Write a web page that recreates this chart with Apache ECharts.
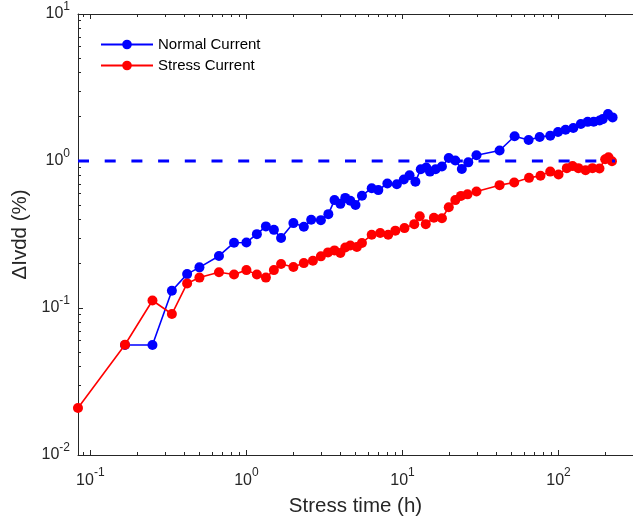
<!DOCTYPE html>
<html>
<head>
<meta charset="utf-8">
<title>ΔIvdd vs stress time</title>
<script src="https://cdn.jsdelivr.net/npm/echarts@6.0.0/dist/echarts.min.js"></script>
<style>
  html, body { margin: 0; padding: 0; background: #fff; }
  #chart1 { width: 633px; height: 522px; }
</style>
</head>
<body>
<div id="chart1"></div>
<script>
// 数据：应力时间 (h) 和 ΔIvdd (%)
var timeNormal = [0.1667, 0.25, 0.333, 0.417, 0.5, 0.667, 0.833, 1.0, 1.167, 1.333,
    1.5, 1.667, 2.0, 2.333, 2.6, 3.0, 3.35, 3.667, 4.0, 4.3,
    4.63, 5.0, 5.5, 6.35, 7.0, 8.0, 9.2, 10.2, 11.1, 12.1,
    13.1, 14.2, 15.0, 16.3, 17.9, 19.8, 21.8, 24.0, 26.4, 29.8,
    41.9, 52.3, 64.3, 75.7, 88.5, 99.2, 110.9, 124.3, 139, 153.7,
    168, 183.4, 192, 207.5, 222];
var ivddNormal = [0.056, 0.056, 0.131, 0.170, 0.189, 0.226, 0.278, 0.279, 0.318, 0.359,
    0.340, 0.299, 0.378, 0.357, 0.398, 0.396, 0.435, 0.542, 0.511, 0.561,
    0.536, 0.502, 0.581, 0.653, 0.634, 0.703, 0.695, 0.748, 0.800, 0.722,
    0.880, 0.904, 0.847, 0.880, 0.918, 1.048, 1.009, 0.883, 0.979, 1.094,
    1.179, 1.474, 1.388, 1.458, 1.488, 1.576, 1.631, 1.677, 1.784, 1.846,
    1.848, 1.884, 1.927, 2.084, 1.980];

var timeStress = [0.0833, 0.1667, 0.25, 0.333, 0.417, 0.5, 0.667, 0.833, 1.0, 1.167,
    1.333, 1.5, 1.667, 2.0, 2.333, 2.667, 3.0, 3.333, 3.667, 4.0,
    4.3, 4.63, 5.1, 5.5, 6.35, 7.2, 8.1, 9.0, 10.3, 11.9,
    12.9, 14.1, 15.9, 17.9, 19.8, 21.8, 23.7, 26.1, 29.8, 41.9,
    52.0, 64.7, 76.6, 88.5, 100, 113, 123, 134, 149, 165,
    183, 199, 209, 220];
var ivddStress = [0.0209, 0.0562, 0.1125, 0.091, 0.147, 0.161, 0.175, 0.169, 0.181, 0.169,
    0.161, 0.181, 0.199, 0.190, 0.202, 0.2095, 0.2245, 0.239, 0.2465, 0.237,
    0.258, 0.2665, 0.260, 0.277, 0.315, 0.3235, 0.315, 0.336, 0.3495, 0.372,
    0.421, 0.372, 0.411, 0.408, 0.484, 0.542, 0.579, 0.593, 0.621, 0.685,
    0.714, 0.768, 0.793, 0.847, 0.809, 0.894, 0.923, 0.894, 0.864, 0.894,
    0.888, 1.028, 1.061, 0.997];

// 1% 参考线
var refLineTime = [1 / 12, 230];
var refLineValue = [1, 1];

// 坐标轴刻度
var xMajorTicks = [0.1, 1, 10, 100];
var yMajorTicks = [0.01, 0.1, 1, 10];
var xRange = [1 / 12, 300];
var yRange = [0.01, 10];

function minorTicks(major, range) {
    var out = [];
    var decades = [major[0] / 10].concat(major);
    for (var i = 0; i < decades.length; i++) {
        for (var k = 2; k <= 9; k++) {
            var v = +(decades[i] * k).toPrecision(6);
            if (v > range[0] && v < range[1]) out.push(v);
        }
    }
    return out;
}

function pair(xs, ys) {
    var out = [];
    for (var i = 0; i < xs.length; i++) out.push([xs[i], ys[i]]);
    return out;
}

function powLabel(v) {
    var e = Math.round(Math.log(v) / Math.LN10);
    return '{b|10}{s|' + e + '}';
}

var axisColor = '#262626';
var fontName = 'Liberation Sans, Arial, sans-serif';
var labelRich = {
    b: { fontSize: 16, color: axisColor, fontFamily: fontName },
    s: { fontSize: 12, color: axisColor, fontFamily: fontName, padding: [0, 0, 15, 0] }
};

// 只画刻度的辅助轴
function tickAxis(pos, range, ticks, len, showLine) {
    return {
        type: 'log', logBase: 10, min: range[0], max: range[1], position: pos,
        axisLine: { show: showLine, lineStyle: { color: axisColor, width: 1 } },
        axisTick: { show: true, inside: true, length: len, customValues: ticks,
            lineStyle: { color: axisColor, width: 1 } },
        axisLabel: { show: false },
        splitLine: { show: false }
    };
}

var myChart = echarts.init(document.getElementById('chart1'));

var option = {
    animation: false,
    backgroundColor: '#fff',
    textStyle: { fontFamily: fontName },
    grid: { left: 78, top: 14, right: -9, bottom: 64, containLabel: false },
    legend: {
        orient: 'vertical',
        left: 100,
        top: 37,
        padding: 0,
        itemWidth: 52,
        itemHeight: 12,
        itemGap: 6,
        textStyle: { fontSize: 15, color: '#000', fontFamily: fontName },
        data: ['Normal Current', 'Stress Current']
    },
    xAxis: [
        {
            type: 'log', logBase: 10, min: xRange[0], max: xRange[1], position: 'bottom',
            name: 'Stress time (h)', nameLocation: 'middle', nameGap: 41,
            nameTextStyle: { fontSize: 20.5, color: axisColor, fontFamily: fontName },
            axisLine: { lineStyle: { color: axisColor, width: 1 } },
            axisTick: { inside: true, length: 5, customValues: xMajorTicks,
                lineStyle: { color: axisColor, width: 1 } },
            axisLabel: { customValues: xMajorTicks, formatter: powLabel, margin: 12, rich: labelRich },
            splitLine: { show: false }
        },
        tickAxis('bottom', xRange, minorTicks(xMajorTicks, xRange), 3, false),
        tickAxis('top', xRange, xMajorTicks, 5, true),
        tickAxis('top', xRange, minorTicks(xMajorTicks, xRange), 3, false)
    ],
    yAxis: [
        {
            type: 'log', logBase: 10, min: yRange[0], max: yRange[1], position: 'left',
            name: 'ΔIvdd (%)', nameLocation: 'middle', nameGap: 38,
            nameTextStyle: { fontSize: 20.5, color: axisColor, fontFamily: fontName },
            axisLine: { lineStyle: { color: axisColor, width: 1 } },
            axisTick: { inside: true, length: 5, customValues: yMajorTicks,
                lineStyle: { color: axisColor, width: 1 } },
            axisLabel: { customValues: yMajorTicks, formatter: powLabel, margin: 8, rich: labelRich },
            splitLine: { show: false }
        },
        tickAxis('left', yRange, minorTicks(yMajorTicks, yRange), 3, false)
    ],
    series: [
        {
            name: 'Normal Current',
            type: 'line',
            data: pair(timeNormal, ivddNormal),
            symbol: 'circle',
            symbolSize: 10,
            clip: false,
            itemStyle: { color: '#0000ff' },
            lineStyle: { color: '#0000ff', width: 1.6 },
            z: 2
        },
        {
            name: 'Stress Current',
            type: 'line',
            data: pair(timeStress, ivddStress),
            symbol: 'circle',
            symbolSize: 10,
            clip: false,
            itemStyle: { color: '#ff0000' },
            lineStyle: { color: '#ff0000', width: 1.6 },
            z: 3
        },
        {
            type: 'line',
            data: pair(refLineTime, refLineValue),
            symbol: 'none',
            silent: true,
            lineStyle: { color: '#0000ff', width: 3, type: [11, 15.7] },
            z: 4
        }
    ]
};

myChart.setOption(option);
</script>
</body>
</html>
